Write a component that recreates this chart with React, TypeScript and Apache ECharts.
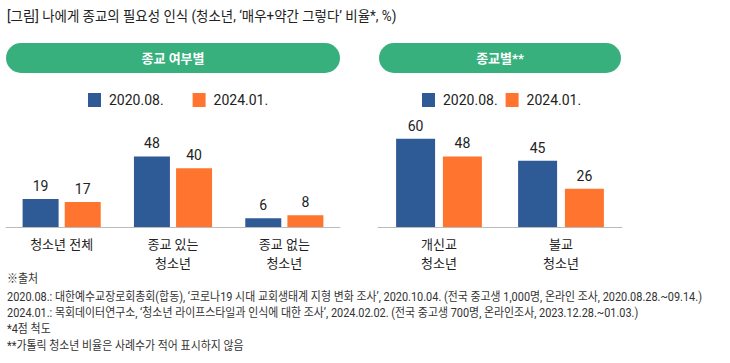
import React, { useEffect, useRef } from "react";
import * as echarts from "echarts";

const title = "[그림] 나에게 종교의 필요성 인식 (청소년, ‘매우+약간 그렇다’ 비율*, %)";
const seriesNames = ["2020.08.", "2024.01."];
const leftHeader = "종교 여부별";
const rightHeader = "종교별**";
const leftCategories = ["청소년 전체", "종교 있는\n청소년", "종교 없는\n청소년"];
const leftValues2020 = [19, 48, 6];
const leftValues2024 = [17, 40, 8];
const rightCategories = ["개신교\n청소년", "불교\n청소년"];
const rightValues2020 = [60, 45];
const rightValues2024 = [48, 26];
const footnotes = [
  "※출처",
  "2020.08.: 대한예수교장로회총회(합동), ‘코로나19 시대 교회생태계 지형 변화 조사’, 2020.10.04. (전국 중고생 1,000명, 온라인 조사, 2020.08.28.~09.14.)",
  "2024.01.: 목회데이터연구소, ‘청소년 라이프스타일과 인식에 대한 조사’, 2024.02.02. (전국 중고생 700명, 온라인조사, 2023.12.28.~01.03.)",
  "*4점 척도",
  "**가톨릭 청소년 비율은 사례수가 적어 표시하지 않음",
];

const BLUE = "#2e5b96";
const ORANGE = "#ff752f";
const GREEN = "#37b07e";
const FONT = "Roboto, 'Noto Sans CJK KR', sans-serif";

export default function App() {
  const ref = useRef<HTMLDivElement>(null);
  useEffect(() => {
    document.body.style.margin = "0";
    const chart = echarts.init(ref.current!, null, { renderer: "svg" });
    const label = {
      show: true,
      position: "top",
      distance: 6,
      fontSize: 14,
      color: "#222",
      fontFamily: FONT,
    };
    const footerY = [279, 297, 313, 329, 346];
    chart.setOption({
      animation: false,
      textStyle: { fontFamily: FONT },
      legend: [
        {
          data: seriesNames,
          left: 83,
          top: 88,
          itemWidth: 13,
          itemHeight: 14,
          itemGap: 29,
          icon: "rect",
          textStyle: { fontSize: 14, color: "#222", padding: [0, 0, 0, 3] },
        },
        {
          data: seriesNames,
          left: 417,
          top: 88,
          itemWidth: 13,
          itemHeight: 14,
          itemGap: 8,
          icon: "rect",
          textStyle: { fontSize: 14, color: "#222", padding: [0, 0, 0, 3] },
        },
      ],
      grid: [
        { left: 6, width: 334, top: 80, height: 147 },
        { left: 378, width: 244, top: 80, height: 147 },
      ],
      xAxis: [
        {
          gridIndex: 0,
          type: "category",
          data: leftCategories,
          axisLine: { lineStyle: { color: "#bbb" } },
          axisTick: { show: false },
          axisLabel: { fontSize: 13, color: "#222", lineHeight: 19, margin: 8 },
        },
        {
          gridIndex: 1,
          type: "category",
          data: rightCategories,
          axisLine: { lineStyle: { color: "#bbb" } },
          axisTick: { show: false },
          axisLabel: { fontSize: 13, color: "#222", lineHeight: 19, margin: 8 },
        },
      ],
      yAxis: [
        { gridIndex: 0, type: "value", min: 0, max: 100, show: false },
        { gridIndex: 1, type: "value", min: 0, max: 100, show: false },
      ],
      series: [
        {
          name: seriesNames[0], type: "bar", xAxisIndex: 0, yAxisIndex: 0,
          data: leftValues2020, itemStyle: { color: BLUE }, barWidth: 36, barGap: "17%", label,
        },
        {
          name: seriesNames[1], type: "bar", xAxisIndex: 0, yAxisIndex: 0,
          data: leftValues2024, itemStyle: { color: ORANGE }, barWidth: 36, barGap: "17%", label,
        },
        {
          name: seriesNames[0], type: "bar", xAxisIndex: 1, yAxisIndex: 1,
          data: rightValues2020, itemStyle: { color: BLUE }, barWidth: 39, barGap: "20%", label,
        },
        {
          name: seriesNames[1], type: "bar", xAxisIndex: 1, yAxisIndex: 1,
          data: rightValues2024, itemStyle: { color: ORANGE }, barWidth: 39, barGap: "20%", label,
        },
      ],
      graphic: [
        {
          type: "text", x: 7, y: 16, scaleX: 0.96,
          style: { text: title, fontSize: 14, fill: "#222", verticalAlign: "middle", fontFamily: FONT },
        },
        { type: "rect", shape: { x: 6, y: 43, width: 334, height: 30, r: 15 }, style: { fill: GREEN } },
        {
          type: "text", x: 173, y: 58,
          style: { text: leftHeader, fontSize: 13, fontWeight: "bold", fill: "#fff", align: "center", verticalAlign: "middle", fontFamily: FONT },
        },
        { type: "rect", shape: { x: 379, y: 43, width: 242, height: 30, r: 15 }, style: { fill: GREEN } },
        {
          type: "text", x: 500, y: 58,
          style: { text: rightHeader, fontSize: 13, fontWeight: "bold", fill: "#fff", align: "center", verticalAlign: "middle", fontFamily: FONT },
        },
        ...footnotes.map((t, i) => ({
          type: "text", x: 7, y: footerY[i], scaleX: 0.91,
          style: { text: t, fontSize: 12, fill: "#333", verticalAlign: "middle", fontFamily: FONT },
        })),
      ],
    });
    return () => chart.dispose();
  }, []);
  return <div ref={ref} style={{ width: 730, height: 363 }} />;
}
